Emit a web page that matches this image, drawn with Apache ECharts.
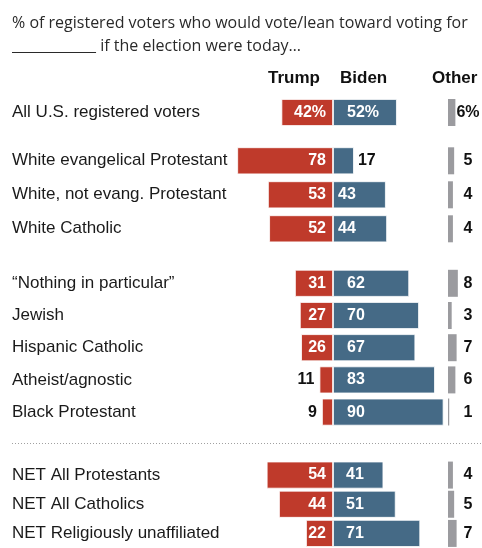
<!DOCTYPE html>
<html>
<head>
<meta charset="utf-8">
<script src="https://cdn.jsdelivr.net/npm/echarts@6/dist/echarts.min.js"></script>
<style>
  html, body { margin: 0; padding: 0; background: #fff; }
  #main { width: 482px; height: 548px; }
</style>
</head>
<body>
<div id="main"></div>
<script>
var categories = [
  'All U.S. registered voters',
  'White evangelical Protestant', 'White, not evang. Protestant', 'White Catholic',
  '\u201cNothing in particular\u201d', 'Jewish', 'Hispanic Catholic', 'Atheist/agnostic', 'Black Protestant',
  'NET All Protestants', 'NET All Catholics', 'NET Religiously unaffiliated'
];
var trump = [42, 78, 53, 52, 31, 27, 26, 11, 9, 54, 44, 22];
var biden = [52, 17, 43, 44, 62, 70, 67, 83, 90, 41, 51, 71];
var other = [6, 5, 4, 4, 8, 3, 7, 6, 1, 4, 5, 7];
var groupSizes = [1, 3, 5, 3];

// layout of each row group (px)
var groupTops = [95.5, 143.8, 267.2, 460.5];
var rowHeights = [34, 34, 32.2, 31];
var bidenInset = [14, 5, 14, 13];

var RED = '#bf3a2b', BLUE = '#456a86', GREY = '#9b9b9f';
var NUM_FONT = 'Liberation Sans';

var chart = echarts.init(document.getElementById('main'));

var grids = [], xAxes = [], yAxes = [], series = [];
var start = 0;
groupSizes.forEach(function (n, g) {
  var cats = categories.slice(start, start + n);
  var tr = trump.slice(start, start + n);
  var bi = biden.slice(start, start + n);
  var ot = other.slice(start, start + n);
  var pct = start === 0 ? '%' : '';
  var top = groupTops[g], h = rowHeights[g] * n;

  // main diverging grid
  grids.push({ left: 234.8, width: 221, top: top, height: h });
  xAxes.push({ type: 'value', gridIndex: 2 * g, min: -80, max: 100, show: false });
  yAxes.push({
    type: 'category', gridIndex: 2 * g, data: cats, inverse: true,
    axisLine: { show: false }, axisTick: { show: false }, splitLine: { show: false },
    axisLabel: { align: 'left', margin: 222.8, fontFamily: 'Liberation Sans', fontSize: 17, color: '#1a1a1a' }
  });
  // other grid
  grids.push({ left: 448, width: 24.6, top: top, height: h });
  xAxes.push({ type: 'value', gridIndex: 2 * g + 1, min: 0, max: 20, show: false });
  yAxes.push({ type: 'category', gridIndex: 2 * g + 1, data: cats, inverse: true, show: false });

  series.push({
    name: 'Trump', type: 'bar', stack: 'tb' + g, xAxisIndex: 2 * g, yAxisIndex: 2 * g,
    barWidth: 27, itemStyle: { color: RED, borderColor: '#fff', borderWidth: 0.8 },
    data: tr.map(function (v) {
      var inside = v >= 20;
      return {
        value: -v,
        label: {
          show: true, position: inside ? 'insideRight' : 'left', distance: inside ? 7 : 5,
          color: inside ? '#fff' : '#111',
          formatter: function () { return v + pct; }
        }
      };
    }),
    label: { fontFamily: NUM_FONT, fontWeight: 'bold', fontSize: 16 }
  });
  series.push({
    name: 'Biden', type: 'bar', stack: 'tb' + g, xAxisIndex: 2 * g, yAxisIndex: 2 * g,
    barWidth: 27, itemStyle: { color: BLUE, borderColor: '#fff', borderWidth: 0.8 },
    data: bi.map(function (v) {
      var inside = v >= 20;
      return {
        value: v,
        label: {
          show: true, position: inside ? 'insideLeft' : 'right', distance: inside ? bidenInset[g] : 4,
          color: inside ? '#fff' : '#111',
          formatter: function () { return v + pct; }
        }
      };
    }),
    label: { fontFamily: NUM_FONT, fontWeight: 'bold', fontSize: 16 }
  });
  series.push({
    name: 'Other', type: 'bar', xAxisIndex: 2 * g + 1, yAxisIndex: 2 * g + 1,
    barWidth: 27, itemStyle: { color: GREY },
    data: ot,
    label: {
      show: true, position: [20, '50%'], align: 'center', verticalAlign: 'middle',
      fontFamily: NUM_FONT, fontWeight: 'bold', fontSize: 16, color: '#111',
      formatter: function (p) { return p.value + pct; }
    }
  });
  start += n;
});

var headStyle = { fontFamily: NUM_FONT, fontWeight: 'bold', fontSize: 17, color: '#111' };

var option = {
  backgroundColor: '#fff',
  animation: false,
  title: [
    {
      text: '% of registered voters who would vote/lean toward voting for\n____________ if the election were today\u2026',
      left: 12, top: 12, padding: 0,
      textStyle: { fontFamily: 'Open Sans', fontWeight: 'normal', fontSize: 16, lineHeight: 23, color: '#2a2a2a' }
    },
    { text: 'Trump', left: 268, top: 70, padding: 0, textStyle: headStyle },
    { text: 'Biden', left: 340, top: 70, padding: 0, textStyle: headStyle },
    { text: 'Other', left: 432, top: 70, padding: 0, textStyle: headStyle }
  ],
  graphic: [{
    type: 'line', shape: { x1: 12, y1: 443.5, x2: 482, y2: 443.5 },
    style: { stroke: '#a0a0a0', lineWidth: 1, lineDash: [1, 2] }
  }],
  grid: grids,
  xAxis: xAxes,
  yAxis: yAxes,
  series: series
};

chart.setOption(option);
</script>
</body>
</html>
